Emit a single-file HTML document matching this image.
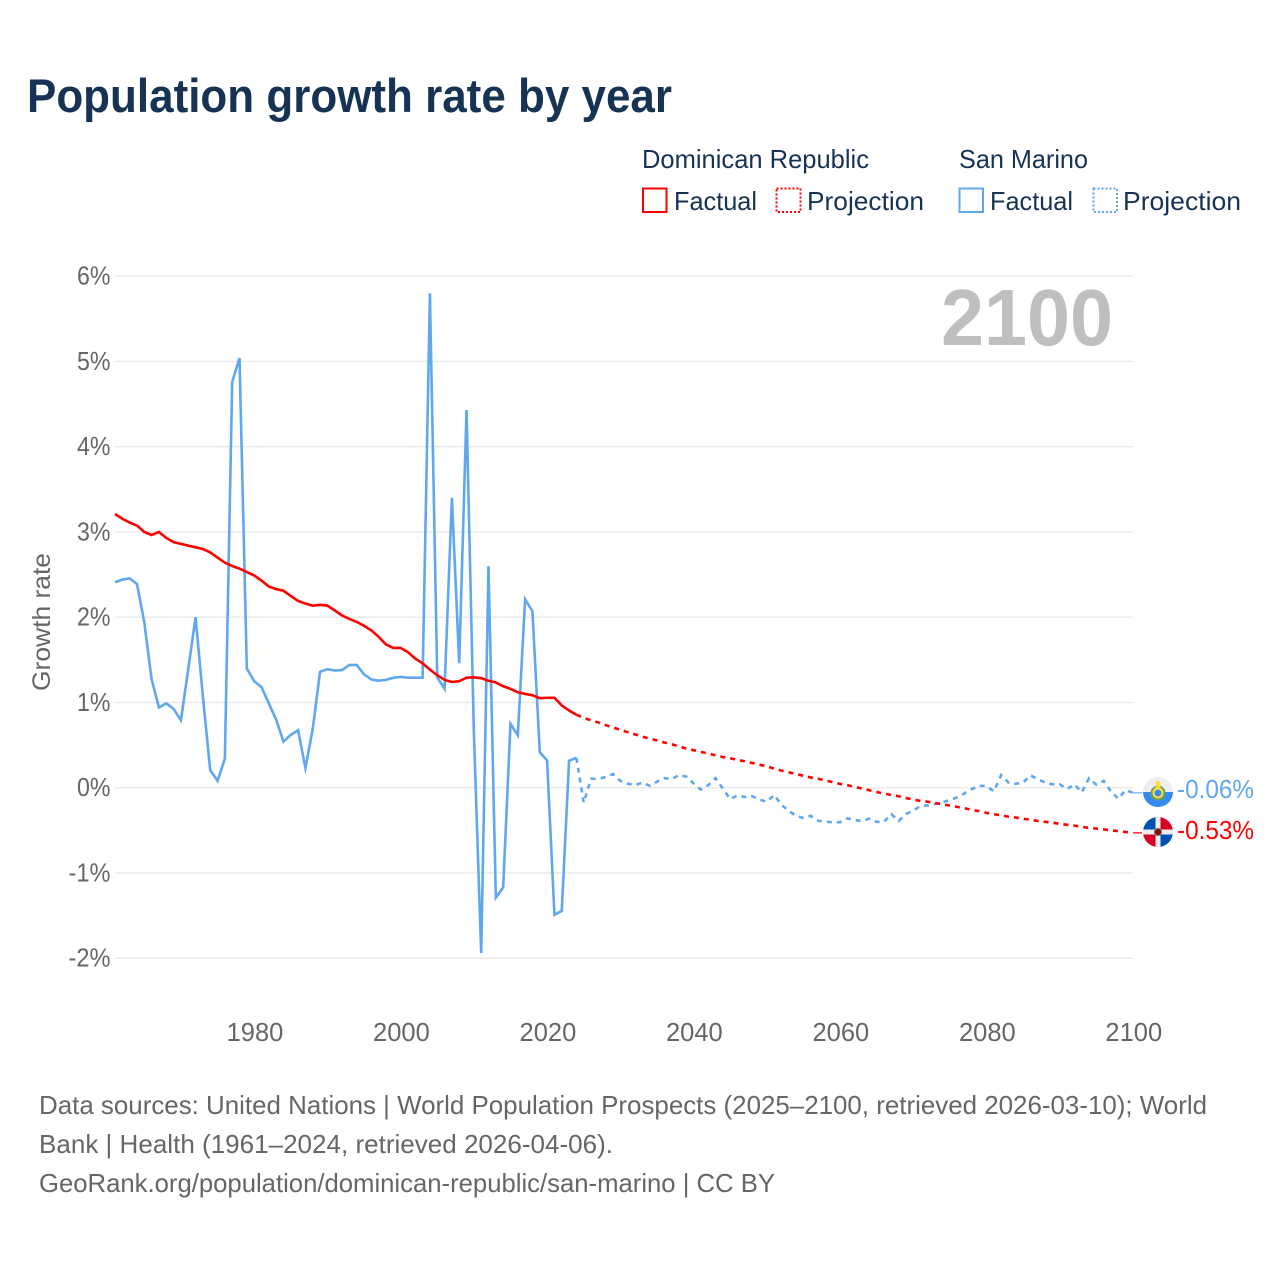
<!DOCTYPE html>
<html lang="en">
<head>
<meta charset="utf-8">
<title>Population growth rate by year</title>
<style>
html,body{margin:0;padding:0;background:#fff;}
svg{display:block;font-family:"Liberation Sans",sans-serif;}
</style>
</head>
<body>
<svg id="chart" xmlns="http://www.w3.org/2000/svg" width="1280" height="1280" viewBox="0 0 1280 1280">
  <defs>
    <clipPath id="clip-sm"><circle cx="1158" cy="792" r="15"/></clipPath>
    <clipPath id="clip-dr"><circle cx="1158" cy="832" r="15"/></clipPath>
  </defs>
  <rect width="1280" height="1280" fill="#fff"/>
  <text x="27" y="112" font-size="47" font-weight="700" fill="#173354" textLength="645" lengthAdjust="spacingAndGlyphs">Population growth rate by year</text>

  <g font-size="26" fill="#173354">
    <text x="642" y="168" textLength="227" lengthAdjust="spacingAndGlyphs">Dominican Republic</text>
    <text x="959" y="168" textLength="129" lengthAdjust="spacingAndGlyphs">San Marino</text>
    <rect x="643" y="188.5" width="23.5" height="23.5" fill="none" stroke="#ff0000" stroke-width="2"/>
    <text x="674" y="210" textLength="83" lengthAdjust="spacingAndGlyphs">Factual</text>
    <rect x="776.5" y="188.5" width="24" height="23.5" fill="none" stroke="#ff0000" stroke-width="2" stroke-dasharray="2 2"/>
    <text x="807" y="210" textLength="117" lengthAdjust="spacingAndGlyphs">Projection</text>
    <rect x="959.5" y="188.5" width="23.5" height="23.5" fill="none" stroke="#5fa8ee" stroke-width="2"/>
    <text x="990" y="210" textLength="83" lengthAdjust="spacingAndGlyphs">Factual</text>
    <rect x="1093.5" y="188.5" width="23.5" height="23.5" fill="none" stroke="#5fa8ee" stroke-width="2" stroke-dasharray="2 2"/>
    <text x="1123" y="210" textLength="118" lengthAdjust="spacingAndGlyphs">Projection</text>
  </g>

  <g id="grid"></g>
  <g id="yticks" font-size="25.5" fill="#666"></g>
  <g id="xticks" font-size="25.5" fill="#666"></g>
  <text transform="translate(50,622) rotate(-90)" text-anchor="middle" font-size="25" fill="#666" textLength="138" lengthAdjust="spacingAndGlyphs">Growth rate</text>
  <text x="941" y="345" font-size="80" font-weight="700" fill="#bfbfbf" textLength="172" lengthAdjust="spacingAndGlyphs">2100</text>

  <g id="series"></g>

  <g clip-path="url(#clip-sm)">
    <rect x="1143" y="777" width="30" height="15" fill="#eeeeee"/>
    <rect x="1143" y="792" width="30" height="15" fill="#338af3"/>
    <circle cx="1158" cy="793" r="6.5" fill="none" stroke="#6da544" stroke-width="2"/>
    <circle cx="1158" cy="793" r="4.4" fill="#338af3" stroke="#ffda44" stroke-width="2"/>
    <rect x="1155.5" y="781" width="5" height="8" rx="2.5" fill="#ffda44"/>
  </g>
  <g clip-path="url(#clip-dr)">
    <rect x="1143" y="817" width="30" height="30" fill="#eeeeee"/>
    <rect x="1143" y="817" width="12.5" height="12.5" fill="#0052b4"/>
    <rect x="1160.5" y="817" width="12.5" height="12.5" fill="#d80027"/>
    <rect x="1143" y="834.5" width="12.5" height="12.5" fill="#d80027"/>
    <rect x="1160.5" y="834.5" width="12.5" height="12.5" fill="#0052b4"/>
    <circle cx="1158" cy="832" r="3.4" fill="#a2001d" stroke="#496e2d" stroke-width="1"/>
  </g>
  <text x="1177" y="798" font-size="26" fill="#5fa8ee" textLength="77" lengthAdjust="spacingAndGlyphs">-0.06%</text>
  <text x="1177" y="839" font-size="26" fill="#ff0000" textLength="77" lengthAdjust="spacingAndGlyphs">-0.53%</text>

  <g font-size="26" fill="#666">
    <text x="39" y="1114" textLength="1168" lengthAdjust="spacingAndGlyphs">Data sources: United Nations | World Population Prospects (2025–2100, retrieved 2026-03-10); World</text>
    <text x="39" y="1153" textLength="574" lengthAdjust="spacingAndGlyphs">Bank | Health (1961–2024, retrieved 2026-04-06).</text>
    <text x="39" y="1192" textLength="736" lengthAdjust="spacingAndGlyphs">GeoRank.org/population/dominican-republic/san-marino | CC BY</text>
  </g>
</svg>

<script>
const factualYears = [1961,1962,1963,1964,1965,1966,1967,1968,1969,1970,1971,1972,1973,1974,1975,1976,1977,1978,1979,1980,1981,1982,1983,1984,1985,1986,1987,1988,1989,1990,1991,1992,1993,1994,1995,1996,1997,1998,1999,2000,2001,2002,2003,2004,2005,2006,2007,2008,2009,2010,2011,2012,2013,2014,2015,2016,2017,2018,2019,2020,2021,2022,2023,2024];
const projectionYears = [2025,2026,2027,2028,2029,2030,2031,2032,2033,2034,2035,2036,2037,2038,2039,2040,2041,2042,2043,2044,2045,2046,2047,2048,2049,2050,2051,2052,2053,2054,2055,2056,2057,2058,2059,2060,2061,2062,2063,2064,2065,2066,2067,2068,2069,2070,2071,2072,2073,2074,2075,2076,2077,2078,2079,2080,2081,2082,2083,2084,2085,2086,2087,2088,2089,2090,2091,2092,2093,2094,2095,2096,2097,2098,2099,2100];
const drFactual = [3.21,3.155,3.11,3.075,3.0,2.965,3.0,2.93,2.88,2.86,2.84,2.82,2.80,2.76,2.70,2.64,2.60,2.57,2.53,2.49,2.43,2.36,2.33,2.31,2.25,2.19,2.16,2.135,2.145,2.135,2.08,2.02,1.98,1.945,1.90,1.845,1.77,1.68,1.64,1.64,1.59,1.515,1.46,1.385,1.32,1.265,1.24,1.25,1.29,1.295,1.285,1.255,1.235,1.19,1.16,1.12,1.10,1.085,1.05,1.055,1.055,0.965,0.905,0.855];
const smFactual = [2.41,2.44,2.456,2.39,1.94,1.27,0.94,0.99,0.925,0.79,1.39,2.0,1.07,0.206,0.08,0.34,4.76,5.04,1.40,1.25,1.18,0.99,0.80,0.54,0.62,0.675,0.23,0.69,1.36,1.39,1.375,1.38,1.44,1.44,1.33,1.27,1.254,1.265,1.29,1.30,1.29,1.29,1.29,5.80,1.295,1.16,3.40,1.46,4.43,0.65,-1.94,2.60,-1.29,-1.17,0.75,0.615,2.21,2.07,0.416,0.32,-1.49,-1.445,0.316,0.35];
const drProjection = [0.82,0.79,0.765,0.735,0.705,0.68,0.65,0.625,0.60,0.575,0.555,0.53,0.51,0.485,0.46,0.44,0.42,0.40,0.38,0.36,0.345,0.325,0.31,0.29,0.27,0.25,0.225,0.20,0.18,0.16,0.14,0.12,0.105,0.085,0.065,0.045,0.03,0.01,-0.01,-0.03,-0.05,-0.07,-0.085,-0.10,-0.12,-0.14,-0.155,-0.165,-0.18,-0.195,-0.21,-0.225,-0.24,-0.26,-0.275,-0.295,-0.31,-0.325,-0.34,-0.35,-0.365,-0.375,-0.39,-0.40,-0.41,-0.425,-0.435,-0.445,-0.46,-0.47,-0.48,-0.49,-0.50,-0.51,-0.52,-0.53];
const smProjection = [-0.175,0.105,0.105,0.125,0.16,0.08,0.047,0.03,0.06,0.023,0.07,0.113,0.10,0.148,0.13,0.05,-0.023,0.03,0.113,-0.012,-0.133,-0.09,-0.11,-0.10,-0.14,-0.164,-0.086,-0.20,-0.273,-0.33,-0.355,-0.33,-0.387,-0.40,-0.405,-0.405,-0.36,-0.38,-0.39,-0.363,-0.40,-0.40,-0.31,-0.39,-0.31,-0.266,-0.215,-0.207,-0.19,-0.17,-0.145,-0.113,-0.066,-0.016,0.023,0.02,-0.043,0.148,0.06,0.047,0.06,0.145,0.10,0.06,0.04,0.04,-0.016,0.04,-0.055,0.11,0.035,0.08,-0.047,-0.13,-0.027,-0.06];
const yTickValues = [6,5,4,3,2,1,0,-1,-2];
const yTickLabels = ["6%","5%","4%","3%","2%","1%","0%","-1%","-2%"];
const xTickValues = [1980,2000,2020,2040,2060,2080,2100];
const xTickLabels = ["1980","2000","2020","2040","2060","2080","2100"];

const NS = 'http://www.w3.org/2000/svg';
const plotLeft = 115, plotRight = 1133;
const xScale = function (year) { return plotLeft + (year - 1961) * (plotRight - plotLeft) / 139; };
const yScale = function (value) { return 787.7 - value * 85.25; };
const toPath = function (years, values) {
  return years.map(function (yr, i) {
    return (i ? 'L' : 'M') + xScale(yr).toFixed(2) + ' ' + yScale(values[i]).toFixed(2);
  }).join(' ');
};

const gridGroup = document.getElementById('grid');
const yGroup = document.getElementById('yticks');
yTickValues.forEach(function (v, i) {
  const line = document.createElementNS(NS, 'line');
  
  
  line.setAttribute('x1', plotLeft);
  line.setAttribute('x2', plotRight);
  line.setAttribute('y1', yScale(v));
  line.setAttribute('y2', yScale(v));
  line.setAttribute('stroke', '#e9e9e9');
  line.setAttribute('stroke-width', '1.3');
  gridGroup.appendChild(line);
  const label = document.createElementNS(NS, 'text');
  
  
  const w = yTickLabels[i].length === 3 ? 42 : 33.5;
  label.setAttribute('x', 110.5 - w);
  label.setAttribute('y', yScale(v) + 8.5);
  label.setAttribute('textLength', w);
  label.setAttribute('lengthAdjust', 'spacingAndGlyphs');
  label.textContent = yTickLabels[i];
  yGroup.appendChild(label);
});

const xGroup = document.getElementById('xticks');
xTickValues.forEach(function (yr, i) {
  const label = document.createElementNS(NS, 'text');
  
  
  label.setAttribute('x', xScale(yr) + 0.8);
  label.setAttribute('y', 1041);
  label.setAttribute('text-anchor', 'middle');
  label.textContent = xTickLabels[i];
  xGroup.appendChild(label);
});

const seriesGroup = document.getElementById('series');
const addLine = function (d, color, dash, name, width, opacity) {
  const p = document.createElementNS(NS, 'path');
  
  
  p.setAttribute('d', d);
  p.setAttribute('fill', 'none');
  p.setAttribute('stroke', color);
  p.setAttribute('stroke-width', width);
  p.setAttribute('stroke-linejoin', 'miter');
  p.setAttribute('stroke-miterlimit', '6');
  if (dash) { p.setAttribute('stroke-dasharray', dash); }
  if (opacity) { p.setAttribute('opacity', opacity); }
  seriesGroup.appendChild(p);
};
const lastFactualYear = factualYears[factualYears.length - 1];
const smColor = '#5fa8ee', drColor = '#ff0000';
addLine(toPath(factualYears, smFactual), smColor, null, 'san-marino-factual-line', 2.6);
addLine(toPath([lastFactualYear].concat(projectionYears), [smFactual[smFactual.length - 1]].concat(smProjection)), smColor, '5 5', 'san-marino-projection-line', 2.6);
addLine(toPath(factualYears, drFactual), drColor, null, 'dominican-republic-factual-line', 2.6);
addLine(toPath([lastFactualYear].concat(projectionYears), [drFactual[drFactual.length - 1]].concat(drProjection)), drColor, '5 5', 'dominican-republic-projection-line', 2.6);

const smEnd = smProjection[smProjection.length - 1];
const drEnd = drProjection[drProjection.length - 1];
addLine('M' + plotRight + ' ' + yScale(smEnd) + ' L1142 ' + yScale(smEnd), smColor, null, 'san-marino-end-connector', 1.4, '0.8');
addLine('M' + plotRight + ' ' + yScale(drEnd) + ' L1142 ' + yScale(drEnd), drColor, null, 'dominican-republic-end-connector', 1.4, '0.9');
</script>
</body>
</html>
